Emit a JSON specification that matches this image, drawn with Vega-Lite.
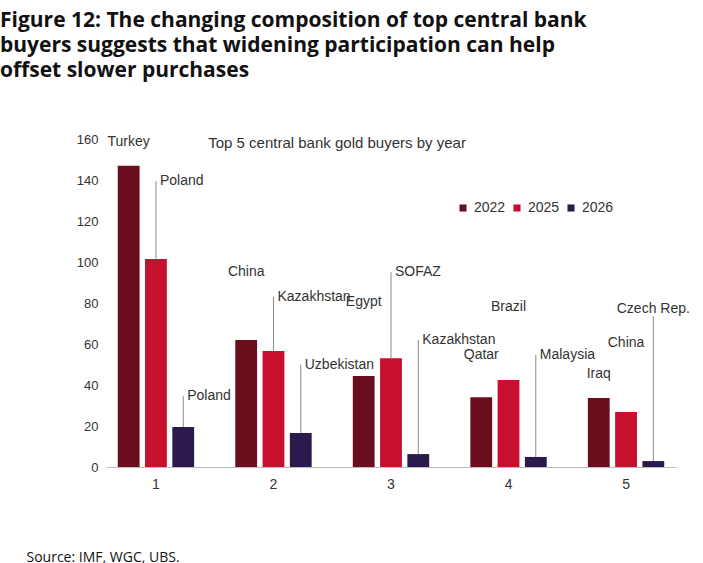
{
  "$schema": "https://vega.github.io/schema/vega-lite/v6.json",
  "width": 570,
  "height": 328,
  "padding": {"left": 0, "top": 10, "right": 10, "bottom": 10},
  "background": "white",
  "title": {
    "text": ["Figure 12: The changing composition of top central bank", "buyers suggests that widening participation can help", "offset slower purchases"],
    "font": "Open Sans",
    "fontSize": 21,
    "fontWeight": "bold",
    "color": "#111",
    "anchor": "start",
    "frame": "bounds",
    "dx": -26,
    "lineHeight": 25,
    "offset": 52
  },
  "config": {
    "view": {"stroke": null},
    "font": "Liberation Sans",
    "text": {"font": "Liberation Sans", "fontSize": 14, "color": "#333"}
  },
  "data": {
    "values": [
      {"group": "1", "year": "2022", "country": "Turkey", "value": 147, "labelY": 155, "side": "center"},
      {"group": "1", "year": "2025", "country": "Poland", "value": 101.5, "labelY": 139.5, "side": "left"},
      {"group": "1", "year": "2026", "country": "Poland", "value": 19.5, "labelY": 34.6, "side": "left"},
      {"group": "2", "year": "2022", "country": "China", "value": 62, "labelY": 91.7, "side": "center"},
      {"group": "2", "year": "2025", "country": "Kazakhstan", "value": 56.6, "labelY": 83, "side": "left"},
      {"group": "2", "year": "2026", "country": "Uzbekistan", "value": 16.6, "labelY": 50, "side": "left"},
      {"group": "3", "year": "2022", "country": "Egypt", "value": 44.4, "labelY": 77, "side": "center"},
      {"group": "3", "year": "2025", "country": "SOFAZ", "value": 53, "labelY": 95, "side": "left"},
      {"group": "3", "year": "2026", "country": "Kazakhstan", "value": 6.3, "labelY": 62, "side": "left"},
      {"group": "4", "year": "2022", "country": "Qatar", "value": 34, "labelY": 51, "side": "center"},
      {"group": "4", "year": "2025", "country": "Brazil", "value": 42.4, "labelY": 74.6, "side": "center"},
      {"group": "4", "year": "2026", "country": "Malaysia", "value": 4.9, "labelY": 54.6, "side": "left"},
      {"group": "5", "year": "2022", "country": "Iraq", "value": 33.7, "labelY": 42, "side": "center"},
      {"group": "5", "year": "2025", "country": "China", "value": 26.8, "labelY": 57, "side": "center"},
      {"group": "5", "year": "2026", "country": "Czech Rep.", "value": 2.9, "labelY": 73.6, "side": "center"}
    ]
  },
  "encoding": {
    "x": {
      "field": "group", "type": "nominal",
      "scale": {"paddingInner": 0.35, "paddingOuter": 0.1},
      "axis": {
        "labelAngle": 0, "labelFontSize": 14, "labelColor": "#333", "ticks": false,
        "domainColor": "#bbb", "labelPadding": 10,
        "title": "Source: IMF, WGC, UBS.", "titleFont": "Open Sans", "titleFontSize": 14,
        "titleFontWeight": "normal", "titleColor": "#111", "titleAnchor": "start",
        "titleAlign": "left", "titleX": -80, "titleY": 83
      }
    },
    "xOffset": {"field": "year", "type": "nominal", "scale": {"paddingInner": 0.2}}
  },
  "layer": [
    {
      "mark": {"type": "bar"},
      "encoding": {
        "y": {
          "field": "value", "type": "quantitative",
          "scale": {"domain": [0, 160]},
          "axis": {"values": [0, 20, 40, 60, 80, 100, 120, 140, 160], "grid": false, "domain": false, "ticks": false, "labelFontSize": 13, "labelColor": "#333", "offset": 6, "title": null}
        },
        "color": {
          "field": "year", "type": "nominal",
          "scale": {"domain": ["2022", "2025", "2026"], "range": ["#6b0f1e", "#c8102e", "#2b1a4d"]},
          "legend": {
            "title": null, "orient": "none", "direction": "horizontal", "legendX": 350, "legendY": 62,
            "symbolType": "square", "symbolSize": 50, "labelFontSize": 14, "labelColor": "#333", "columnPadding": 4, "symbolOffset": 0
          }
        }
      }
    },
    {
      "transform": [{"filter": "datum.side == 'left' || datum.country == 'Czech Rep.'"}],
      "mark": {"type": "rule", "color": "#888", "strokeWidth": 1},
      "encoding": {
        "y": {"field": "value", "type": "quantitative"},
        "y2": {"field": "labelY"}
      }
    },
    {
      "transform": [{"filter": "datum.side == 'left'"}],
      "mark": {"type": "text", "align": "left", "baseline": "middle", "dx": 4},
      "encoding": {
        "y": {"field": "labelY", "type": "quantitative"},
        "text": {"field": "country"}
      }
    },
    {
      "transform": [{"filter": "datum.side == 'center'"}],
      "mark": {"type": "text", "align": "center", "baseline": "bottom"},
      "encoding": {
        "y": {"field": "labelY", "type": "quantitative"},
        "text": {"field": "country"}
      }
    },
    {
      "data": {"values": [{"t": "Top 5 central bank gold buyers by year"}]},
      "mark": {"type": "text", "align": "left", "baseline": "middle", "fontSize": 15, "dx": 25},
      "encoding": {
        "x": {"datum": "1"},
        "xOffset": {"datum": "2026"},
        "y": {"datum": 158},
        "text": {"field": "t"}
      }
    }
  ]
}
